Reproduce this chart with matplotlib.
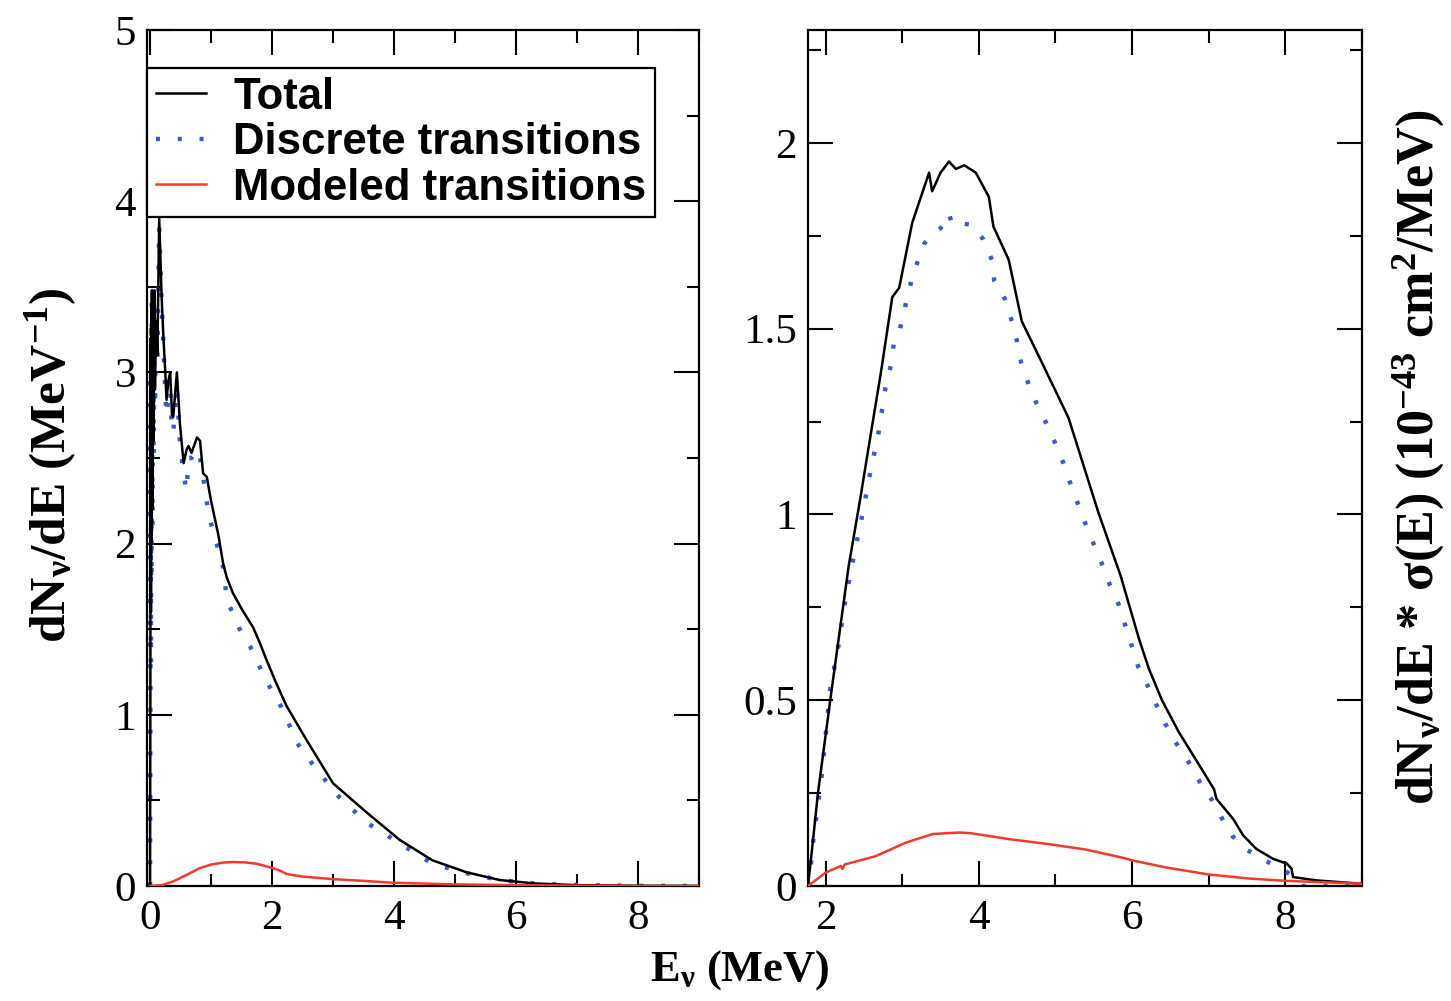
import matplotlib
matplotlib.use("Agg")
import matplotlib.pyplot as plt
from matplotlib.ticker import MultipleLocator

plt.rcParams['font.family'] = ['Liberation Serif', 'DejaVu Serif']
plt.rcParams['mathtext.fontset'] = 'custom'
plt.rcParams['mathtext.rm'] = 'Liberation Serif:bold'
plt.rcParams['mathtext.it'] = 'Liberation Serif:bold'
plt.rcParams['mathtext.bf'] = 'Liberation Serif:bold'
plt.rcParams['mathtext.default'] = 'rm'

# ---------------- data: left panel (dN/dE) ----------------
left_total_x = [0.0, 0.005, 0.01, 0.015, 0.02, 0.025, 0.03, 0.04, 0.05, 0.06, 0.07, 0.08, 0.1, 0.12,
                0.15, 0.19, 0.22, 0.25, 0.27, 0.3, 0.33, 0.36, 0.38, 0.44, 0.49, 0.55, 0.6, 0.63,
                0.68, 0.77, 0.82, 0.87, 0.93, 1.0, 1.12, 1.2, 1.26, 1.36, 1.5, 1.69, 1.8, 1.91,
                2.05, 2.24, 2.57, 3.0, 3.55, 4.09, 4.63, 5.19, 5.73, 6.3, 7.0, 8.0, 9.0]
left_total_y = [0.0, 1.05, 3.2, 1.6, 3.4, 2.0, 3.48, 2.2, 3.45, 2.6, 3.48, 2.9, 3.3, 3.1,
                3.90, 3.44, 3.2, 3.0, 2.84, 2.95, 3.0, 2.75, 2.74, 3.0, 2.7, 2.47, 2.55, 2.57,
                2.53, 2.62, 2.6, 2.41, 2.39, 2.25, 2.05, 1.88, 1.80, 1.71, 1.62, 1.51, 1.42, 1.32,
                1.20, 1.05, 0.85, 0.60, 0.43, 0.27, 0.15, 0.08, 0.035, 0.015, 0.005, 0.001, 0.0]

left_disc_x = [0.0, 0.005, 0.01, 0.015, 0.02, 0.025, 0.03, 0.04, 0.05, 0.06, 0.07, 0.08, 0.1, 0.12,
               0.15, 0.19, 0.22, 0.25, 0.27, 0.3, 0.33, 0.36, 0.38, 0.44, 0.49, 0.55, 0.6, 0.63,
               0.68, 0.77, 0.82, 0.87, 0.96, 1.03, 1.2, 1.26, 1.47, 1.64, 1.85, 2.01, 2.18, 2.4,
               2.73, 3.1, 3.55, 4.09, 4.63, 5.19, 5.73, 6.3, 7.0, 8.0, 9.0]
left_disc_y = [0.0, 1.0, 3.0, 1.3, 3.3, 1.8, 3.4, 2.1, 3.35, 2.5, 3.4, 2.8, 3.25, 3.05,
               3.85, 3.4, 3.15, 2.9, 2.75, 2.85, 2.9, 2.65, 2.65, 2.9, 2.6, 2.4, 2.31, 2.5,
               2.5, 2.55, 2.5, 2.39, 2.17, 2.08, 1.86, 1.67, 1.50, 1.40, 1.24, 1.13, 1.03, 0.84,
               0.68, 0.52, 0.37, 0.25, 0.13, 0.075, 0.035, 0.015, 0.005, 0.001, 0.0]

left_model_x = [0.0, 0.2, 0.4, 0.6, 0.82, 1.0, 1.2, 1.36, 1.55, 1.75, 1.96, 2.13, 2.24, 2.5,
                3.0, 3.5, 3.93, 4.9, 6.0, 7.0, 9.0]
left_model_y = [0.0, 0.005, 0.03, 0.065, 0.105, 0.125, 0.137, 0.14, 0.138, 0.13, 0.11, 0.09, 0.07, 0.055,
                0.04, 0.03, 0.02, 0.01, 0.005, 0.002, 0.0]

# ---------------- data: right panel (dN/dE * sigma) ----------------
right_total_x = [1.77, 1.82, 1.90, 2.06, 2.30, 2.45, 2.6, 2.72, 2.87, 2.96, 3.13, 3.35, 3.39, 3.5,
                 3.61, 3.70, 3.81, 3.96, 4.13, 4.19, 4.39, 4.56, 4.82, 5.17, 5.56, 5.85, 6.09, 6.22,
                 6.39, 6.61, 6.88, 7.07, 7.1, 7.32, 7.45, 7.62, 7.84, 8.02, 8.08, 8.1, 8.41, 9.0]
right_total_y = [0.0, 0.094, 0.25, 0.50, 0.86, 1.04, 1.23, 1.38, 1.585, 1.61, 1.785, 1.92, 1.87, 1.92,
                 1.95, 1.93, 1.94, 1.92, 1.855, 1.775, 1.685, 1.52, 1.41, 1.26, 1.005, 0.835, 0.665, 0.584,
                 0.50, 0.414, 0.324, 0.26, 0.235, 0.18, 0.136, 0.10, 0.073, 0.06, 0.047, 0.024, 0.015, 0.006]

right_disc_x = [1.78, 1.84, 1.95, 2.06, 2.17, 2.25, 2.36, 2.47, 2.58, 2.69, 2.78, 2.85, 2.89, 2.96,
                3.05, 3.12, 3.2, 3.29, 3.42, 3.5, 3.61, 3.65, 3.71, 3.9, 4.06, 4.17, 4.2, 4.34,
                4.43, 4.5, 4.55, 4.65, 4.75, 4.87, 5.0, 5.1, 5.2, 5.4, 5.6, 5.71, 5.82, 5.99, 6.08,
                6.2, 6.32, 6.44, 6.58, 6.74, 6.88, 7.04, 7.17, 7.31, 7.51, 7.75, 8.02, 8.2, 9.0]
right_disc_y = [0.0, 0.125, 0.30, 0.53, 0.65, 0.76, 0.88, 0.99, 1.11, 1.22, 1.34, 1.40, 1.46, 1.49,
                1.57, 1.63, 1.68, 1.73, 1.76, 1.77, 1.81, 1.78, 1.785, 1.78, 1.74, 1.685, 1.63, 1.58,
                1.52, 1.465, 1.41, 1.35, 1.30, 1.25, 1.19, 1.14, 1.08, 0.97, 0.87, 0.81, 0.76, 0.65, 0.59,
                0.54, 0.486, 0.434, 0.383, 0.333, 0.281, 0.232, 0.183, 0.134, 0.096, 0.067, 0.038, 0.0, 0.0]

right_model_x = [1.77, 2.0, 2.2, 2.22, 2.25, 2.65, 3.05, 3.4, 3.75, 3.9, 4.4, 4.9, 5.4, 5.9,
                 6.0, 6.44, 7.0, 7.53, 8.0, 8.63, 9.0]
right_model_y = [0.0, 0.036, 0.054, 0.046, 0.058, 0.08, 0.117, 0.14, 0.144, 0.142, 0.126, 0.113, 0.098, 0.075,
                 0.069, 0.05, 0.031, 0.02, 0.014, 0.009, 0.006]

legend_labels = ["Total", "Discrete transitions", "Modeled transitions"]
left_yticks = [0, 1, 2, 3, 4, 5]
right_yticks = [0, 0.5, 1, 1.5, 2]
right_yticklabels = ["0", "0.5", "1", "1.5", "2"]

BLACK = "#000000"
BLUE = "#3b5cc4"
RED = "#f23b2b"

fig = plt.figure(figsize=(14.51, 10.01), dpi=100)
W, H = 1451.0, 1001.0
axL = fig.add_axes([147 / W, 1 - 886 / H, 552 / W, 856 / H])
axR = fig.add_axes([808 / W, 1 - 886 / H, 554 / W, 856 / H])

dot_style = (0, (0.9, 4.0))

axL.plot(left_total_x, left_total_y, color=BLACK, lw=1.8, label=legend_labels[0], zorder=3)
axL.plot(left_disc_x, left_disc_y, color=BLUE, lw=3.2, linestyle=dot_style, label=legend_labels[1], zorder=2)
axL.plot(left_model_x, left_model_y, color=RED, lw=1.8, label=legend_labels[2], zorder=4)

axR.plot(right_total_x, right_total_y, color=BLACK, lw=1.8, zorder=3)
axR.plot(right_disc_x, right_disc_y, color=BLUE, lw=3.2, linestyle=dot_style, zorder=2)
axR.plot(right_model_x, right_model_y, color=RED, lw=1.8, zorder=4)

axL.set_xlim(-0.05, 9.0)
axL.set_ylim(0, 5)
axR.set_xlim(1.77, 9.0)
axR.set_ylim(0, 2.304)

for ax in (axL, axR):
    ax.xaxis.set_major_locator(MultipleLocator(2))
    ax.xaxis.set_minor_locator(MultipleLocator(1))
    ax.tick_params(which='both', direction='in', top=True, right=True, width=1.5, labelsize=31)
    ax.tick_params(which='major', length=18)
    ax.tick_params(which='minor', length=9)
    ax.tick_params(axis='x', pad=10)
    ax.tick_params(axis='y', pad=8)
    for s in ax.spines.values():
        s.set_linewidth(1.6)

axL.set_yticks(left_yticks)
axL.yaxis.set_minor_locator(MultipleLocator(0.5))
axR.set_yticks(right_yticks)
axR.set_yticklabels(right_yticklabels)
axR.yaxis.set_minor_locator(MultipleLocator(0.25))

leg = axL.legend(loc='upper left', bbox_to_anchor=(0.0, (886 - 68) / 856.0), borderaxespad=0,
                 fancybox=False, framealpha=1, edgecolor='black',
                 prop={'family': ['Liberation Sans', 'DejaVu Sans'], 'weight': 'bold', 'size': 31.5},
                 handlelength=1.15, handletextpad=0.62, labelspacing=0.1,
                 borderpad=0.2)
leg.get_frame().set_linewidth(1.6)

fig.text(740 / W, 1 - 970 / H, r"E$_{\nu}$ (MeV)", ha='center', va='center',
         fontsize=32, fontweight='bold')
fig.text(51 / W, 1 - 465 / H, r"dN$_{\nu}$/dE (MeV$^{-1}$)", ha='center', va='center',
         rotation=90, fontsize=37, fontweight='bold')
fig.text(1418 / W, 1 - 457 / H, r"dN$_{\nu}$/dE * $\sigma$(E) (10$^{-43}$ cm$^{2}$/MeV)", ha='center', va='center',
         rotation=90, fontsize=37.5, fontweight='bold')

fig.savefig("out.png", dpi=100)
